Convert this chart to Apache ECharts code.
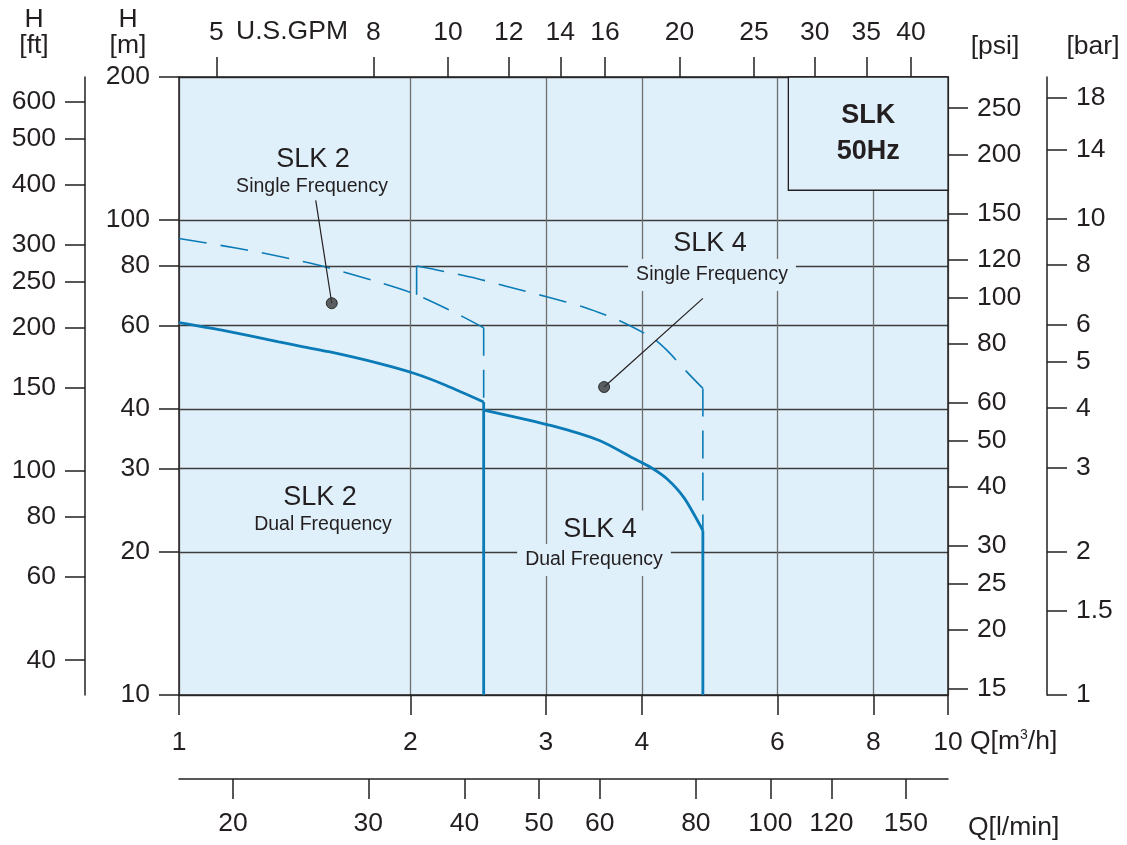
<!DOCTYPE html>
<html><head><meta charset="utf-8">
<script src="https://cdn.jsdelivr.net/npm/echarts@6/dist/echarts.min.js"></script>
<style>html,body{margin:0;padding:0;background:#fff}#c{width:1127px;height:845px}</style>
</head><body><div id="c"></div>
<script>
// ---------- tick labels ----------
const flowTicksM3h = [1, 2, 3, 4, 6, 8, 10];
const flowTicksGpm = [5, 8, 10, 12, 14, 16, 20, 25, 30, 35, 40];
const flowTicksLmin = [20, 30, 40, 50, 60, 80, 100, 120, 150];
const headTicksM = [10, 20, 30, 40, 60, 80, 100, 200];
const headTicksFt = [40, 60, 80, 100, 150, 200, 250, 300, 400, 500, 600];
const pressTicksPsi = [15, 20, 25, 30, 40, 50, 60, 80, 100, 120, 150, 200, 250];
const pressTicksBar = [1, 1.5, 2, 3, 4, 5, 6, 8, 10, 14, 18];

// ---------- curves: Q [m3/h], H [m] ----------
const qSlk2Dual = [1.0, 1.137, 1.348, 1.566, 1.819, 2.034, 2.222, 2.49];
const hSlk2Dual = [60.8, 58.6, 55.4, 52.8, 49.9, 47.4, 44.9, 41.4];
const qSlk4Dual = [2.49, 3.052, 3.528, 3.898, 4.099, 4.313, 4.538, 4.80];
const hSlk4Dual = [39.8, 36.9, 34.3, 31.5, 30.2, 28.5, 26.0, 22.2];
const qSlk2Single = [1.0, 1.196, 1.362, 1.551, 1.783, 2.01, 2.289, 2.49];
const hSlk2Single = [91.4, 87.1, 83.6, 79.6, 74.7, 70.2, 63.7, 59.3];
const qSlk4Single = [2.037, 2.157, 2.438, 2.686, 3.007, 3.356, 3.746, 4.14, 4.309, 4.575, 4.80];
const hSlk4Single = [80.0, 78.6, 75.3, 72.3, 68.9, 65.6, 61.3, 56.3, 53.2, 47.9, 44.2];
const slk4SingleBaseH = 69.6;   // where the SLK 4 single-frequency riser starts (on SLK 2 curve)
const headFloor = 10;           // bottom of the head scale

// ---------- annotation anchors (Q, H) ----------
const leaderSlk2 = [[1.506, 110], [1.58, 66.8]];
const leaderSlk4 = [[4.80, 68.4], [3.571, 44.5]];
const boxCorners = [[6.2, 115.5], [10, 200]];

const FONT = '"Liberation Sans", Arial, Helvetica, sans-serif';
const INK = '#231f20';
const BLUE = '#0b7bb7';
const BG = '#dff0fa';
const AX = 26.5;

const pairs = (qs, hs) => qs.map((q, i) => [q, hs[i]]);
const last = a => a[a.length - 1];

function yAx(opts) {
  return Object.assign({
    type: 'log', logBase: 10,
    axisLine: { show: true, lineStyle: { color: INK, width: 1.5 } },
    axisTick: { show: true, length: 20, lineStyle: { color: INK, width: 1.5 } },
    axisLabel: { show: true, margin: 29, fontSize: AX, fontFamily: FONT, color: INK },
    splitLine: { show: false }, minorTick: { show: false }, minorSplitLine: { show: false }
  }, opts);
}
function ticks(ax, vals, margin) {
  ax.axisTick.customValues = vals;
  ax.axisLabel.customValues = vals;
  if (margin !== undefined) ax.axisLabel.margin = margin;
  return ax;
}

const yM = ticks(yAx({ position: 'left', offset: 0, min: 10, max: 200 }), headTicksM);
yM.splitLine = { show: true, lineStyle: { color: '#3c3c3c', width: 1.3 } };
const yFt = ticks(yAx({ position: 'left', offset: 94, min: 33.8, max: 675 }), headTicksFt);
const yPsi = ticks(yAx({ position: 'right', offset: 0, min: 14.57, max: 290.8 }), pressTicksPsi);
const yBar = ticks(yAx({ position: 'right', offset: 99, min: 0.997, max: 19.9 }), pressTicksBar);

const xM = ticks(yAx({ position: 'bottom', offset: 0, min: 1, max: 10 }), flowTicksM3h, 34);
xM.splitLine = { show: true, lineStyle: { color: '#6e6e6e', width: 1.3 } };
const xGpm = ticks(yAx({ position: 'top', offset: 0, min: 4.47, max: 44.7 }), flowTicksGpm, 31);
const xLmin = ticks(yAx({ position: 'bottom', offset: 84, min: 17.02, max: 170.2 }), flowTicksLmin, 31);

const solid = { color: BLUE, width: 2.8 };
const dashed = { color: BLUE, width: 1.6, type: [28, 14] };
function line(data, style, smooth) {
  return { type: 'line', xAxisIndex: 0, yAxisIndex: 0, data, symbol: 'none',
           smooth: smooth ? 0.25 : false, lineStyle: style, silent: true, z: 3 };
}

function label(x, y, text, size, bg) {
  return { type: 'text', x, y, z: 50,
    style: { text, fontSize: size, fontFamily: FONT, fill: INK, align: 'center', verticalAlign: 'middle',
             backgroundColor: bg ? BG : null, padding: bg ? [6, 8] : 0 } };
}

const chart = echarts.init(document.getElementById('c'), null, { renderer: 'canvas' });
chart.setOption({
  animation: false,
  backgroundColor: '#fff',
  grid: { left: 179, right: 179, top: 77, bottom: 150, show: true, backgroundColor: BG, borderWidth: 0,
          containLabel: false, outerBoundsMode: 'none' },
  xAxis: [xM, xGpm, xLmin],
  yAxis: [yM, yFt, yPsi, yBar],
  series: [
    line(pairs(qSlk2Dual, hSlk2Dual), solid, true),
    line([[last(qSlk2Dual), last(hSlk2Dual)], [last(qSlk2Dual), headFloor]], solid, false),
    line(pairs(qSlk4Dual, hSlk4Dual), solid, true),
    line([[last(qSlk4Dual), last(hSlk4Dual)], [last(qSlk4Dual), headFloor]], solid, false),
    line(pairs(qSlk2Single, hSlk2Single), dashed, true),
    line([[last(qSlk2Single), last(hSlk2Single)], [last(qSlk2Single), last(hSlk2Dual)]], dashed, false),
    line([[qSlk4Single[0], slk4SingleBaseH], [qSlk4Single[0], hSlk4Single[0]]], dashed, false),
    line(pairs(qSlk4Single, hSlk4Single), dashed, true),
    line([[last(qSlk4Single), last(hSlk4Single)], [last(qSlk4Single), last(hSlk4Dual)]], dashed, false),
    Object.assign(line(leaderSlk2, { color: INK, width: 1.2 }, false), {
      markArea: {
        silent: true,
        itemStyle: { color: BG, opacity: 1, borderColor: INK, borderWidth: 1.3 },
        label: { show: true, position: 'inside', formatter: 'SLK\n50Hz', fontSize: 27, fontWeight: 'bold',
                 lineHeight: 36, fontFamily: FONT, color: INK },
        data: [[{ coord: boxCorners[0] }, { coord: boxCorners[1] }]]
      }
    }),
    line(leaderSlk4, { color: INK, width: 1.2 }, false),
    { type: 'scatter', data: [last(leaderSlk2), last(leaderSlk4)], symbolSize: 11, silent: true, z: 4,
      itemStyle: { color: '#3a3a3a', borderColor: '#111', borderWidth: 1 } }
  ],
  graphic: [
    label(34, 20, 'H', AX), label(34, 46, '[ft]', AX),
    label(128, 20, 'H', AX), label(128, 46, '[m]', AX),
    label(292, 32, 'U.S.GPM', AX),
    label(995, 47, '[psi]', AX), label(1093, 47, '[bar]', AX),
    { type: 'text', x: 970, y: 742, z: 50, style: { text: 'Q[m{s|3}/h]', fontSize: AX, fontFamily: FONT, fill: INK,
      align: 'left', verticalAlign: 'middle', rich: { s: { fontSize: 14, fontFamily: FONT, fill: INK, verticalAlign: 'top', padding: [0, 0, 12, 0] } } } },
    { type: 'text', x: 968, y: 828, z: 50, style: { text: 'Q[l/min]', fontSize: AX, fontFamily: FONT, fill: INK, align: 'left', verticalAlign: 'middle' } },
    label(313, 160, 'SLK 2', 27), label(312, 187, 'Single Frequency', 19.5),
    label(710, 244, 'SLK 4', 27, true), label(712, 275, 'Single Frequency', 19.5, true),
    label(320, 498, 'SLK 2', 27), label(323, 525, 'Dual Frequency', 19.5),
    label(600, 530, 'SLK 4', 27, true), label(594, 560, 'Dual Frequency', 19.5, true)
  ]
});
</script></body></html>
